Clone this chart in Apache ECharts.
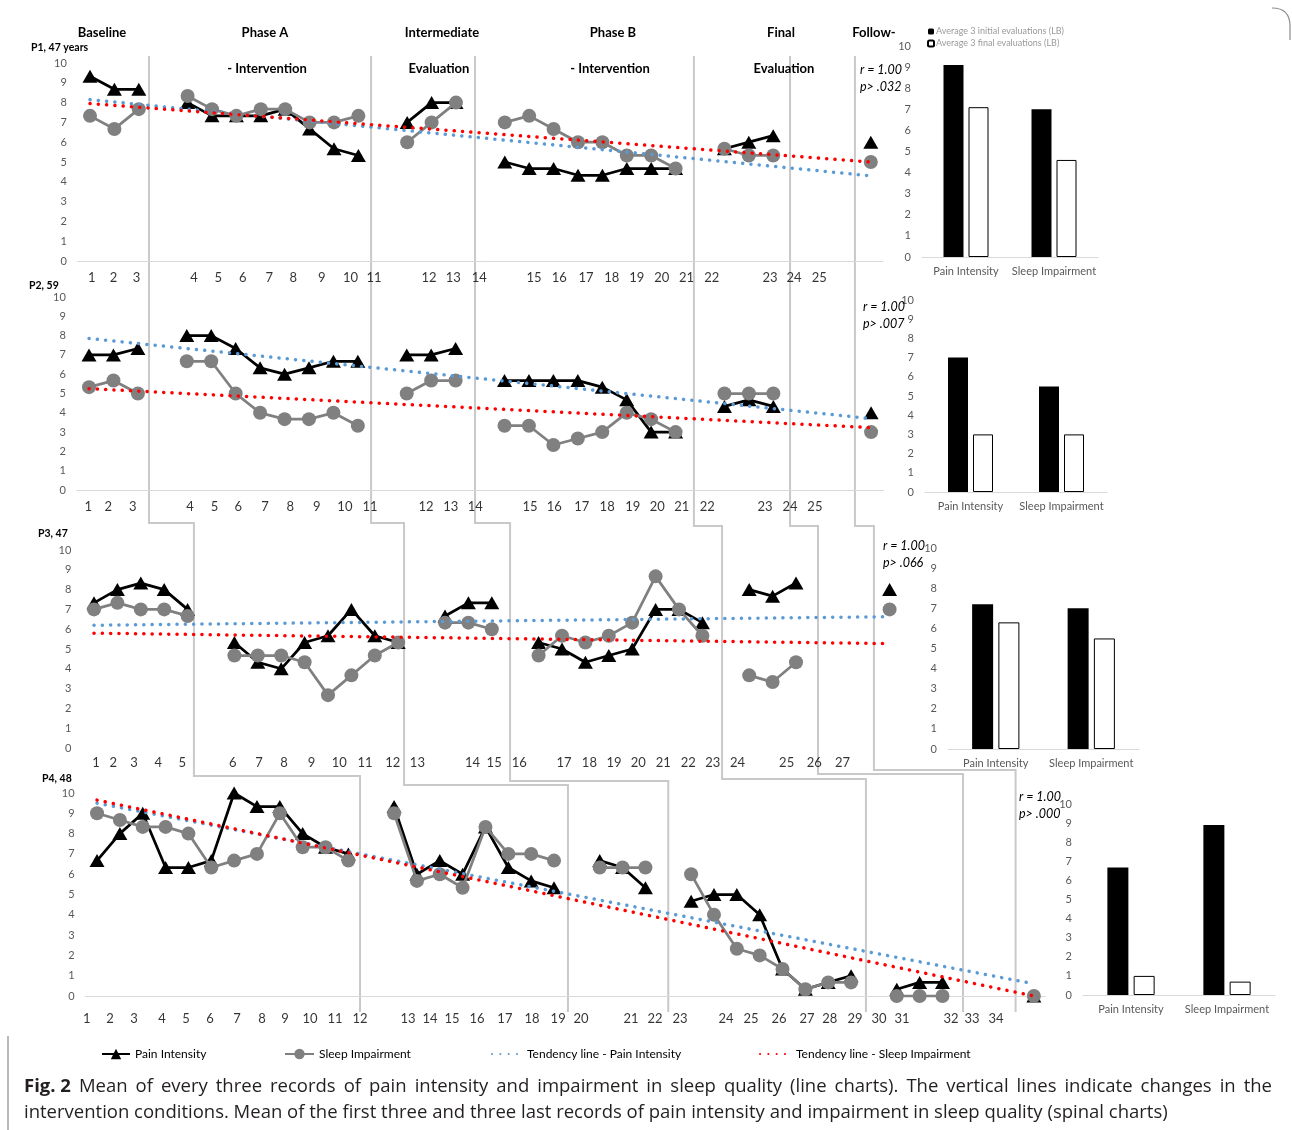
<!DOCTYPE html>
<html><head><meta charset="utf-8">
<script src="https://cdn.jsdelivr.net/npm/echarts@6/dist/echarts.min.js"></script>
<style>html,body{margin:0;padding:0;background:#fff}#c{width:1292px;height:1130px}</style>
</head><body><div id="c"></div>
<script>
// ================= DATA =================
const phaseTitles = ['Baseline', 'Phase A', 'Intermediate', 'Phase B', 'Final', 'Follow-'];
const phaseSubtitles = ['- Intervention', 'Evaluation', '- Intervention', 'Evaluation'];
const panelNames = ['P1, 47 years', 'P2, 59', 'P3, 47', 'P4, 48'];

// mean of every three records, one entry per session slot (null = no record)
const p1Pain  = [9.33,8.67,8.67,null,8.0,7.33,7.33,7.33,7.67,6.67,5.67,5.33,null,7.0,8.0,8.0,null,5.0,4.67,4.67,4.33,4.33,4.67,4.67,4.67,null,5.67,6.0,6.33,null,null,null,6.0];
const p1Sleep = [7.33,6.67,7.67,null,8.33,7.67,7.33,7.67,7.67,7.0,7.0,7.33,null,6.0,7.0,8.0,null,7.0,7.33,6.67,6.0,6.0,5.33,5.33,4.67,null,5.67,5.33,5.33,null,null,null,5.0];
const p2Pain  = [7.0,7.0,7.33,null,8.0,8.0,7.33,6.33,6.0,6.33,6.67,6.67,null,7.0,7.0,7.33,null,5.67,5.67,5.67,5.67,5.33,4.67,3.0,3.0,null,4.33,4.67,4.33,null,null,null,4.0];
const p2Sleep = [5.33,5.67,5.0,null,6.67,6.67,5.0,4.0,3.67,3.67,4.0,3.33,null,5.0,5.67,5.67,null,3.33,3.33,2.33,2.67,3.0,4.0,3.67,3.0,null,5.0,5.0,5.0,null,null,null,3.0];
const p3Pain  = [7.33,8.0,8.33,8.0,7.0,null,5.33,4.33,4.0,5.33,5.67,7.0,5.67,5.33,null,6.67,7.33,7.33,null,5.33,5.0,4.33,4.67,5.0,7.0,7.0,6.33,null,8.0,7.67,8.33,null,null,null,8.0];
const p3Sleep = [7.0,7.33,7.0,7.0,6.67,null,4.67,4.67,4.67,4.33,2.67,3.67,4.67,5.33,null,6.33,6.33,6.0,null,4.67,5.67,5.33,5.67,6.33,8.67,7.0,5.67,null,3.67,3.33,4.33,null,null,null,7.0];
const p4Pain  = [6.67,8.0,9.0,6.33,6.33,6.67,10.0,9.33,9.33,8.0,7.33,7.0,null,9.33,6.0,6.67,6.0,8.33,6.33,5.67,5.33,null,6.67,6.33,5.33,null,4.67,5.0,5.0,4.0,1.33,0.33,0.67,1.0,null,0.33,0.67,0.67,null,null,null,0.0];
const p4Sleep = [9.0,8.67,8.33,8.33,8.0,6.33,6.67,7.0,9.0,7.33,7.33,6.67,null,9.0,5.67,6.0,5.33,8.33,7.0,7.0,6.67,null,6.33,6.33,6.33,null,6.0,4.0,2.33,2.0,1.33,0.33,0.67,0.67,null,0.0,0.0,0.0,null,null,null,0.0];

// tendency lines: [value at first slot, value at last slot]
const p1TrendPain = [8.15, 4.3],  p1TrendSleep = [7.95, 5.0];
const p2TrendPain = [7.85, 3.7],  p2TrendSleep = [5.25, 3.23];
const p3TrendPain = [6.2, 6.63],  p3TrendSleep = [5.8, 5.27];
const p4TrendPain = [9.5, 0.6],   p4TrendSleep = [9.65, 0.0];

// session tick labels (1..n) and where they sit on the slot axis
const p1TickPos = [0.07,0.96,1.91,4.26,5.26,6.26,7.35,8.33,9.5,10.68,11.64,13.89,14.89,15.95,18.2,19.23,20.33,21.38,22.41,23.43,24.45,25.48,27.87,28.85,29.89];
const p2TickPos = [-0.03,0.79,1.79,4.13,5.13,6.11,7.2,8.23,9.32,10.47,11.5,13.79,14.8,15.8,18.04,19.04,20.16,21.2,22.25,23.25,24.25,25.3,27.66,28.68,29.7];
const p3TickPos = [0.09,0.82,1.71,2.75,3.77,5.93,7.05,8.12,9.3,10.48,11.58,12.77,13.82,16.18,17.1,18.17,20.09,21.17,22.22,23.26,24.33,25.4,26.44,27.5,29.6,30.78,31.99];
const p4TickPos = [-0.45,0.57,1.62,2.84,3.9,4.95,6.13,7.22,8.23,9.32,10.42,11.51,13.61,14.57,15.54,16.63,17.85,19.04,20.18,21.18,23.37,24.42,25.51,27.53,28.62,29.85,31.07,32.07,33.17,34.22,35.23,37.37,38.29,39.34];

// phase-change boundaries on each panel's slot axis
const p1Bounds = [2.42, 11.52, 15.78, 24.75, 28.69, 31.35];
const p3Bounds = [4.27, 13.25, 17.78, 26.84, 30.94, 33.33];
const p4Bounds = [11.51, 20.61, 25.0, 33.65, 37.9, 40.2];

// spinal (bar) charts
const barCats = ['Pain Intensity', 'Sleep Impairment'];
const p1Initial = [9.1, 7.0],  p1Final = [7.1, 4.6];
const p2Initial = [7.0, 5.5],  p2Final = [3.0, 3.0];
const p3Initial = [7.2, 7.0],  p3Final = [6.3, 5.5];
const p4Initial = [6.67, 8.9], p4Final = [1.0, 0.7];

const rValues = ['1.00', '1.00', '1.00', '1.00'];
const pValues = ['.032', '.007', '.066', '.000'];

const captionBold = 'Fig. 2';
const captionLine1 = 'Mean of every three records of pain intensity and impairment in sleep quality (line charts). The vertical lines indicate changes in the';
const captionLine2 = 'intervention conditions. Mean of the first three and three last records of pain intensity and impairment in sleep quality (spinal charts)';

// ================= LAYOUT / STYLE =================
const FONT = 'Lato, "Liberation Sans", sans-serif';
const CAPFONT = '"Open Sans", "Noto Sans", sans-serif';
const CAPSIZE = 18.5;
const panels = [
  {pain:p1Pain, sleep:p1Sleep, tp:p1TrendPain, ts:p1TrendSleep, ticks:p1TickPos, ini:p1Initial, fin:p1Final,
   line:{left:77.8, top:63, slot:24.4, h:198}, bar:{left:922, top:46, w:176, h:211}, barW:20, tickDist:10, showX:true},
  {pain:p2Pain, sleep:p2Sleep, tp:p2TrendPain, ts:p2TrendSleep, ticks:p2TickPos, ini:p2Initial, fin:p2Final,
   line:{left:76.8, top:297, slot:24.44, h:193}, bar:{left:925, top:300, w:182, h:192}, barW:20, tickDist:10, showX:true},
  {pain:p3Pain, sleep:p3Sleep, tp:p3TrendPain, ts:p3TrendSleep, ticks:p3TickPos, ini:p3Initial, fin:p3Final,
   line:{left:82.3, top:550, slot:23.4, h:198}, bar:{left:948, top:548, w:191, h:201}, barW:21, tickDist:8, showX:false},
  {pain:p4Pain, sleep:p4Sleep, tp:p4TrendPain, ts:p4TrendSleep, ticks:p4TickPos, ini:p4Initial, fin:p4Final,
   line:{left:85.6, top:793, slot:22.85, h:203}, bar:{left:1083, top:804, w:192, h:191}, barW:21, tickDist:16, showX:true}
];

const grid = [], xAxis = [], yAxis = [], series = [];
const yAxisBase = (margin) => ({type:'value', min:0, max:10, interval:1,
  axisLine:{show:false}, axisTick:{show:false}, splitLine:{show:false},
  axisLabel:{color:'#595959', fontSize:11, fontFamily:FONT, margin:margin}});

panels.forEach((p, k) => {
  const n = p.pain.length;
  const gi = 2 * k, bi = 2 * k + 1;
  grid.push({left:p.line.left, top:p.line.top, width:p.line.slot * n, height:p.line.h, containLabel:false, outerBoundsMode:'none'});
  grid.push({left:p.bar.left, top:p.bar.top, width:p.bar.w, height:p.bar.h, containLabel:false, outerBoundsMode:'none'});
  xAxis.push({type:'value', gridIndex:gi, min:-0.5, max:n - 0.5,
    axisLine:{show:p.showX, lineStyle:{color:'#d9d9d9', width:1}}, axisTick:{show:false},
    axisLabel:{show:false}, splitLine:{show:false}});
  xAxis.push({type:'category', gridIndex:bi, data:barCats,
    axisLine:{show:true, lineStyle:{color:'#d9d9d9', width:1}}, axisTick:{show:false},
    axisLabel:{color:'#595959', fontSize:11, fontFamily:FONT, margin:9, interval:0, hideOverlap:false}});
  yAxis.push(Object.assign(yAxisBase(11), {gridIndex:gi}));
  yAxis.push(Object.assign(yAxisBase(11), {gridIndex:bi}));

  const pts = arr => arr.map((v, i) => [i, v]);
  series.push({name:'Pain Intensity', type:'line', xAxisIndex:gi, yAxisIndex:gi, data:pts(p.pain),
    connectNulls:false, showAllSymbol:true, symbol:'triangle', symbolSize:[15,13],
    lineStyle:{color:'#000', width:2.75}, itemStyle:{color:'#000'}, z:3, silent:true});
  series.push({name:'Sleep Impairment', type:'line', xAxisIndex:gi, yAxisIndex:gi, data:pts(p.sleep),
    connectNulls:false, showAllSymbol:true, symbol:'circle', symbolSize:14,
    lineStyle:{color:'#808080', width:2.75}, itemStyle:{color:'#808080'}, z:4, silent:true});
  series.push({name:'Tendency line - Pain Intensity', type:'line', xAxisIndex:gi, yAxisIndex:gi,
    data:[[0, p.tp[0]], [n - 1, p.tp[1]]], symbol:'none', itemStyle:{color:'#5b9bd5'},
    lineStyle:{color:'#5b9bd5', width:3.5, type:[0.1, 8.2], cap:'round'}, z:5, silent:true});
  series.push({name:'Tendency line - Sleep Impairment', type:'line', xAxisIndex:gi, yAxisIndex:gi,
    data:[[0, p.ts[0]], [n - 1, p.ts[1]]], symbol:'none', itemStyle:{color:'#ff0000'},
    lineStyle:{color:'#ff0000', width:3.5, type:[0.1, 8.2], cap:'round'}, z:6, silent:true});
  series.push({name:'ticks' + k, type:'scatter', xAxisIndex:gi, yAxisIndex:gi,
    data:p.ticks.map(v => [v, 0]), symbolSize:1, itemStyle:{color:'rgba(0,0,0,0)'}, silent:true, z:7,
    label:{show:true, position:'bottom', distance:p.tickDist, color:'#000', fontSize:13, fontFamily:FONT,
      formatter: prm => String(prm.dataIndex + 1)}});
  series.push({name:'Average 3 initial evaluations (LB)', type:'bar', xAxisIndex:bi, yAxisIndex:bi,
    data:p.ini, barWidth:p.barW, barGap:'25%', itemStyle:{color:'#000'}, silent:true});
  series.push({name:'Average 3 final evaluations (LB)', type:'bar', xAxisIndex:bi, yAxisIndex:bi,
    data:p.fin, barWidth:p.barW, barGap:'25%', itemStyle:{color:'#fff', borderColor:'#000', borderWidth:1}, silent:true});
});

const legendBase = {selectedMode:false, padding:0, itemHeight:13, textStyle:{color:'#000', fontSize:12, fontFamily:FONT}};
const legend = [
  Object.assign({}, legendBase, {data:['Pain Intensity'], left:101, top:1048, itemWidth:28}),
  Object.assign({}, legendBase, {data:['Sleep Impairment'], left:284, top:1048, itemWidth:29}),
  Object.assign({}, legendBase, {data:['Tendency line - Pain Intensity'], left:491, top:1048, itemWidth:30, itemStyle:{opacity:0}}),
  Object.assign({}, legendBase, {data:['Tendency line - Sleep Impairment'], left:759, top:1048, itemWidth:31, itemStyle:{opacity:0}}),
  {selectedMode:false, padding:0, orient:'vertical', left:927, top:27, itemWidth:6, itemHeight:6, itemGap:3,
   data:['Average 3 initial evaluations (LB)', 'Average 3 final evaluations (LB)'],
   textStyle:{color:'#9a9a9a', fontSize:9, fontFamily:FONT, padding:[0,0,0,-3]}}
];

const chart = echarts.init(document.getElementById('c'), null, {renderer:'canvas'});
chart.setOption({animation:false, backgroundColor:'#fff', grid, xAxis, yAxis, series, legend});

// ---------- annotations ----------
const g = [];
const txt = (x, y, text, o) => g.push(Object.assign({type:'text', x, y, silent:true, z:10,
  style:Object.assign({text, fill:'#000', fontFamily:FONT, fontSize:13, align:'center', verticalAlign:'middle'}, o || {})}));

const titleX = [102, 265, 442, 613, 781, 874];
phaseTitles.forEach((t, i) => txt(titleX[i], 33, t, {fontWeight:'bold'}));
const subX = [267, 439, 610, 784];
phaseSubtitles.forEach((t, i) => txt(subX[i], 69, t, {fontWeight:'bold'}));

const nameXY = [[31, 48], [29, 286], [38, 534], [42, 779]];
panelNames.forEach((t, i) => txt(nameXY[i][0], nameXY[i][1], t, {fontWeight:'bold', fontSize:10.5, align:'left'}));

const statXY = [[860, 70], [863, 307], [883, 546], [1019, 797]];
rValues.forEach((r, i) => {
  txt(statXY[i][0], statXY[i][1], 'r = ' + r, {fontStyle:'italic', fontSize:12.5, align:'left'});
  txt(statXY[i][0], statXY[i][1] + 17, 'p> ' + pValues[i], {fontStyle:'italic', fontSize:12.5, align:'left'});
});

// phase-change connector lines
const elbowA = [523, 523, 523, 526, 526, 526];
const elbowB = [776, 785, 781, 779, 774, 770];
p1Bounds.forEach((b, k) => {
  const x1 = chart.convertToPixel({xAxisIndex:0}, b);
  const x3 = chart.convertToPixel({xAxisIndex:4}, p3Bounds[k]);
  const x4 = chart.convertToPixel({xAxisIndex:6}, p4Bounds[k]);
  g.push({type:'polyline', silent:true, z:0,
    shape:{points:[[x1, 56], [x1, elbowA[k]], [x3, elbowA[k]], [x3, elbowB[k]], [x4, elbowB[k]], [x4, 1012]]},
    style:{stroke:'#c9c9c9', lineWidth:2, fill:null}});
});

// figure frame (visible parts)
g.push({type:'line', silent:true, z:0, shape:{x1:8, y1:1036, x2:8, y2:1130}, style:{stroke:'#8c8c8c', lineWidth:1.2}});
g.push({type:'bezierCurve', silent:true, z:0, shape:{x1:1272, y1:8, x2:1290, y2:26, cpx1:1290, cpy1:8}, style:{stroke:'#8c8c8c', lineWidth:1.2, fill:null}});
g.push({type:'line', silent:true, z:0, shape:{x1:1290, y1:26, x2:1290, y2:40}, style:{stroke:'#8c8c8c', lineWidth:1.2}});

// caption: first line justified across the box, second line left-aligned
const capL = 24, capR = 1272, capY1 = 1087, capY2 = 1113;
const mctx = document.createElement('canvas').getContext('2d');
const measure = (t, bold) => { mctx.font = (bold ? 'bold ' : '') + CAPSIZE + 'px ' + CAPFONT; return mctx.measureText(t).width; };
const words1 = [{t:captionBold, b:true}].concat(captionLine1.split(' ').map(t => ({t, b:false})));
const totalW = words1.reduce((s, w) => s + measure(w.t, w.b), 0);
const gap = (capR - capL - totalW) / (words1.length - 1);
let cx = capL;
words1.forEach(w => {
  g.push({type:'text', x:cx, y:capY1, silent:true, z:10,
    style:{text:w.t, fill:'#231f20', fontFamily:CAPFONT, fontSize:CAPSIZE, fontWeight:w.b ? 'bold' : 'normal', verticalAlign:'middle'}});
  cx += measure(w.t, w.b) + gap;
});
g.push({type:'text', x:capL, y:capY2, silent:true, z:10,
  style:{text:captionLine2, fill:'#231f20', fontFamily:CAPFONT, fontSize:CAPSIZE, verticalAlign:'middle'}});

chart.setOption({graphic:{elements:g}});
</script></body></html>
